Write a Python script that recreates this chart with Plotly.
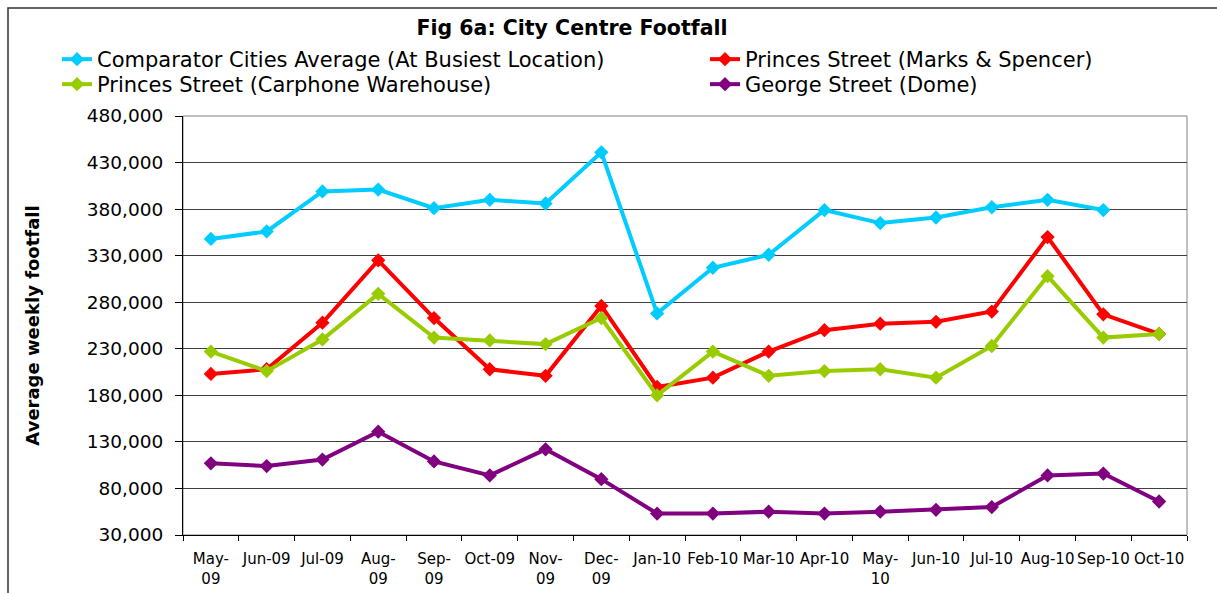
import plotly.graph_objects as go

months = ["May-09", "Jun-09", "Jul-09", "Aug-09", "Sep-09", "Oct-09", "Nov-09", "Dec-09", "Jan-10",
          "Feb-10", "Mar-10", "Apr-10", "May-10", "Jun-10", "Jul-10", "Aug-10", "Sep-10", "Oct-10"]
month_labels = ["May-<br>09", "Jun-09", "Jul-09", "Aug-<br>09", "Sep-<br>09", "Oct-09", "Nov-<br>09", "Dec-<br>09",
                "Jan-10", "Feb-10", "Mar-10", "Apr-10", "May-<br>10", "Jun-10", "Jul-10", "Aug-10", "Sep-10", "Oct-10"]

comparator = [348000, 356000, 399000, 401000, 381000, 390000, 386000, 441000, 268000,
              317000, 331000, 379000, 365000, 371000, 382000, 390000, 379000, None]
ms_princes = [203000, 208000, 258000, 325000, 263000, 208000, 201000, 276000, 189000,
              199000, 227000, 250000, 257000, 259000, 270000, 350000, 267000, 246000]
carphone = [227000, 206000, 240000, 289000, 242000, 239000, 235000, 263000, 180000,
            227000, 201000, 206000, 208000, 199000, 233000, 308000, 242000, 246000]
george = [107000, 104000, 111000, 141000, 109000, 94000, 122000, 90000, 53000,
          53000, 55000, 53000, 55000, 57000, 60000, 94000, 96000, 66000]

y_ticks = [30000, 80000, 130000, 180000, 230000, 280000, 330000, 380000, 430000, 480000]

series_names = ["Comparator Cities Average (At Busiest Location)", "Princes Street (Marks & Spencer)",
                "Princes Street (Carphone Warehouse)", "George Street (Dome)"]
series_values = [comparator, ms_princes, carphone, george]
series_colors = ["#00CCFF", "#FF0000", "#99CC00", "#800080"]

W, H = 1217, 593
ML, MR, MT, MB = 183, 30, 116, 58
PW, PH = W - ML - MR, H - MT - MB


def px_x(px):
    return (px - ML) / PW


def px_y(py):
    return 1 + (MT - py) / PH


# legend slot positions (left px of entry, top px of entry): two columns x two rows
legend_ids = ["legend", "legend2", "legend3", "legend4"]
legend_pos = [(57, 39), (705, 39), (57, 64), (705, 64)]

fig = go.Figure()
for name, vals, color, leg in zip(series_names, series_values, series_colors, legend_ids):
    fig.add_trace(go.Scatter(
        x=months, y=vals, name=name, mode="lines+markers",
        line=dict(color=color, width=4),
        marker=dict(symbol="diamond", size=11, color=color),
        connectgaps=False, legend=leg,
    ))

font_family = "DejaVu Sans, Arial, sans-serif"
legend_layout = {}
for leg, (lx, ly) in zip(legend_ids, legend_pos):
    legend_layout[leg] = dict(orientation="v", x=px_x(lx), y=px_y(ly), xanchor="left", yanchor="top",
                              font=dict(size=21, family=font_family), bgcolor="rgba(0,0,0,0)",
                              itemwidth=30)

fig.update_layout(
    width=W, height=H,
    margin=dict(l=ML, r=MR, t=MT, b=MB, autoexpand=False),
    paper_bgcolor="white", plot_bgcolor="white",
    font=dict(family=font_family, color="black"),
    title=dict(text="<b>Fig 6a: City Centre Footfall</b>", x=572 / W, xanchor="center",
               y=1 - 28 / H, yanchor="middle", font=dict(size=20.5, family=font_family)),
    showlegend=True,
    **legend_layout,
    xaxis=dict(type="category", categoryorder="array", categoryarray=months,
               tickmode="array", tickvals=months, ticktext=month_labels,
               range=[-0.5, 17.5], showgrid=False, showline=True, linecolor="black", linewidth=1,
               ticks="outside", tickson="boundaries", ticklen=5, tickcolor="black",
               ticklabelstandoff=10,
               tickfont=dict(size=15, family=font_family), tickangle=0),
    yaxis=dict(range=[30000, 480000], tickmode="array", tickvals=y_ticks, tickformat=",",
               showgrid=True, gridcolor="#404040", gridwidth=1,
               showline=True, linecolor="black", linewidth=1,
               ticks="outside", ticklen=7, tickcolor="black", ticklabelstandoff=8,
               tickfont=dict(size=18.5, family=font_family),
               title=dict(text="<b>Average weekly footfall</b>", font=dict(size=18, family=font_family),
                          standoff=42)),
    shapes=[
        dict(type="rect", xref="paper", yref="paper", x0=0, x1=1, y0=0, y1=1,
             line=dict(color="#808080", width=1), layer="below"),
        dict(type="rect", xref="paper", yref="paper", x0=px_x(8), x1=px_x(1240),
             y0=px_y(620), y1=px_y(8), line=dict(color="#333333", width=1.5), layer="below"),
    ],
)

fig.write_html("out.html", config={"displayModeBar": False},
               post_script="document.body.style.margin='0px';")
